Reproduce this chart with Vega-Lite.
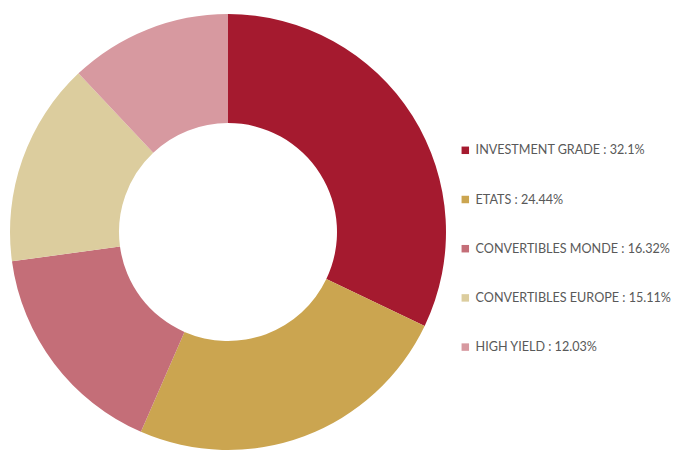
{
  "$schema": "https://vega.github.io/schema/vega-lite/v6.json",
  "width": 456,
  "height": 440,
  "padding": {"top": 12, "left": 0, "right": 0, "bottom": 0},
  "background": "white",
  "config": {"view": {"stroke": null}},
  "data": {
    "values": [
      {"category": "INVESTMENT GRADE : 32.1%", "value": 32.1, "rank": 1},
      {"category": "ETATS : 24.44%", "value": 24.44, "rank": 2},
      {"category": "CONVERTIBLES MONDE : 16.32%", "value": 16.32, "rank": 3},
      {"category": "CONVERTIBLES EUROPE : 15.11%", "value": 15.11, "rank": 4},
      {"category": "HIGH YIELD : 12.03%", "value": 12.03, "rank": 5}
    ]
  },
  "mark": {"type": "arc", "outerRadius": 218, "innerRadius": 109},
  "encoding": {
    "theta": {"field": "value", "type": "quantitative", "stack": true},
    "order": {"field": "rank", "type": "quantitative"},
    "color": {
      "field": "category",
      "type": "nominal",
      "sort": ["INVESTMENT GRADE : 32.1%", "ETATS : 24.44%", "CONVERTIBLES MONDE : 16.32%", "CONVERTIBLES EUROPE : 15.11%", "HIGH YIELD : 12.03%"],
      "scale": {
        "domain": ["INVESTMENT GRADE : 32.1%", "ETATS : 24.44%", "CONVERTIBLES MONDE : 16.32%", "CONVERTIBLES EUROPE : 15.11%", "HIGH YIELD : 12.03%"],
        "range": ["#A51A2F", "#CBA550", "#C46E78", "#DCCD9E", "#D799A0"]
      },
      "legend": {
        "title": null,
        "orient": "none",
        "legendX": 459,
        "legendY": 132,
        "padding": 0,
        "symbolType": "square",
        "symbolSize": 56,
        "symbolStrokeWidth": 0,
        "labelFont": "Lato",
        "labelFontSize": 12.6,
        "labelColor": "#595959",
        "labelOffset": 4,
        "rowPadding": 36.2,
        "labelLimit": 300
      }
    }
  }
}
